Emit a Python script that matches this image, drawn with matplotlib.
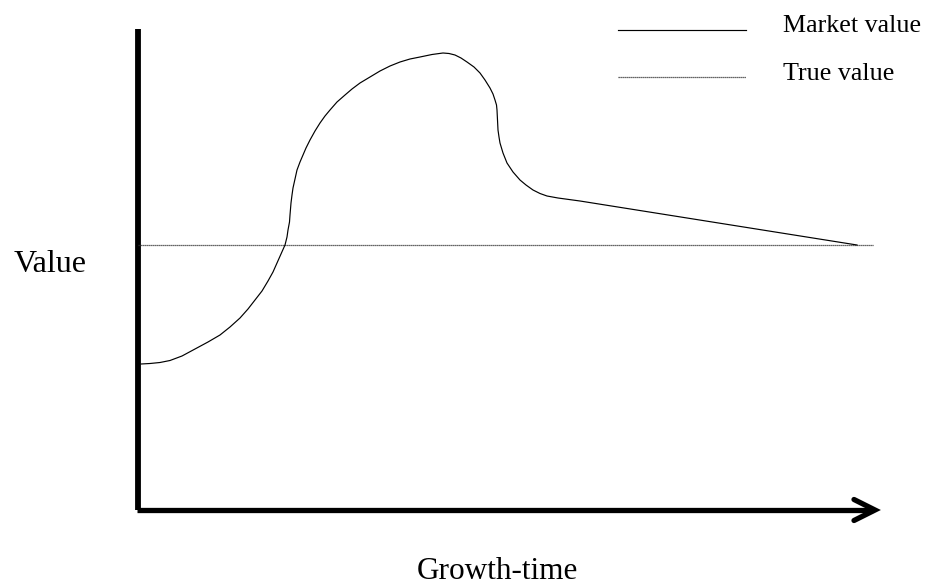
import matplotlib
matplotlib.use("Agg")
import matplotlib.pyplot as plt
from matplotlib.lines import Line2D

plt.rcParams['font.family'] = ['Liberation Serif', 'DejaVu Serif']

# Arbitrary units (no scale on chart): growth-time vs value
growth_time = [3, 12, 22, 32, 44, 57, 70, 82, 92, 102, 110, 117, 124, 130, 135, 139,
               143, 147, 149, 150, 151.5, 152, 153, 154, 155, 157, 159, 162, 165, 168,
               172, 177, 182, 187, 192, 199, 207, 214, 222, 232, 242, 252, 262, 272,
               282, 294, 305, 311, 317, 323, 329, 336, 342, 347, 352, 355, 357, 358.5,
               359, 359.5, 360, 361, 362, 363.5, 365, 367, 369, 375, 382, 388, 395,
               402, 409, 420, 442, 719]
market_value = [146, 146.5, 147.5, 149.5, 154, 161, 168, 175, 183, 192, 201, 210, 219,
                229, 238, 247, 256, 265, 273, 280, 288, 295, 307, 315, 322, 331, 340,
                348, 355, 362, 370, 379, 387, 394, 400, 408, 415, 421, 427, 433, 439,
                444, 448, 451, 453, 455.5, 457, 456.5, 455, 452, 448, 443, 437, 430,
                422, 416, 410, 405, 400, 390, 380, 373, 367, 362, 357, 352, 347, 338,
                330, 325, 320, 316.5, 314, 312, 309, 265]
true_value = 265
true_span = [0, 735]
x_max = 737
y_max = 481

W, H = 926, 587
fig = plt.figure(figsize=(W / 100, H / 100), dpi=100)
ax = fig.add_axes([138 / W, (H - 510) / H, 737 / W, 481 / H])
ax.set_xlim(0, x_max)
ax.set_ylim(0, y_max)
ax.axis('off')

# axes lines
ax.plot([0, 0], [0, y_max], color='black', lw=4.2, solid_capstyle='butt', clip_on=False)
ax.plot([-1.5, x_max - 2], [0, 0], color='black', lw=3.8, solid_capstyle='butt', clip_on=False)
# arrowhead chevron
ah_len, ah_half = 21, 10.5
ax.plot([x_max - ah_len, x_max, x_max - ah_len], [ah_half, 0, -ah_half], color='black',
        lw=3.8, solid_capstyle='round', solid_joinstyle='miter', clip_on=False)

# true value dotted line
ax.plot(true_span, [true_value, true_value], color='#333333', lw=0.9,
        linestyle=(0, (1, 0.6)), clip_on=False)
# market value curve
ax.plot(growth_time, market_value, color='black', lw=0.85, clip_on=False,
        solid_joinstyle='round')

# labels
fig.text(50 / W, (H - 272) / H, 'Value', fontsize=23, ha='center', va='baseline')
fig.text(497 / W, (H - 579) / H, 'Growth-time', fontsize=22.5, ha='center', va='baseline')

# legend
fig.add_artist(Line2D([618 / W, 746 / W], [(H - 30) / H, (H - 30) / H],
                      color='black', lw=0.85))
fig.add_artist(Line2D([618 / W, 746 / W], [(H - 77) / H, (H - 77) / H],
                      color='#333333', lw=0.9, linestyle=(0, (1, 0.6))))
fig.text(783 / W, (H - 32) / H, 'Market value', fontsize=18.7, ha='left', va='baseline')
fig.text(783 / W, (H - 80) / H, 'True value', fontsize=18.7, ha='left', va='baseline')

fig.savefig('out.png', dpi=100, facecolor='white')
